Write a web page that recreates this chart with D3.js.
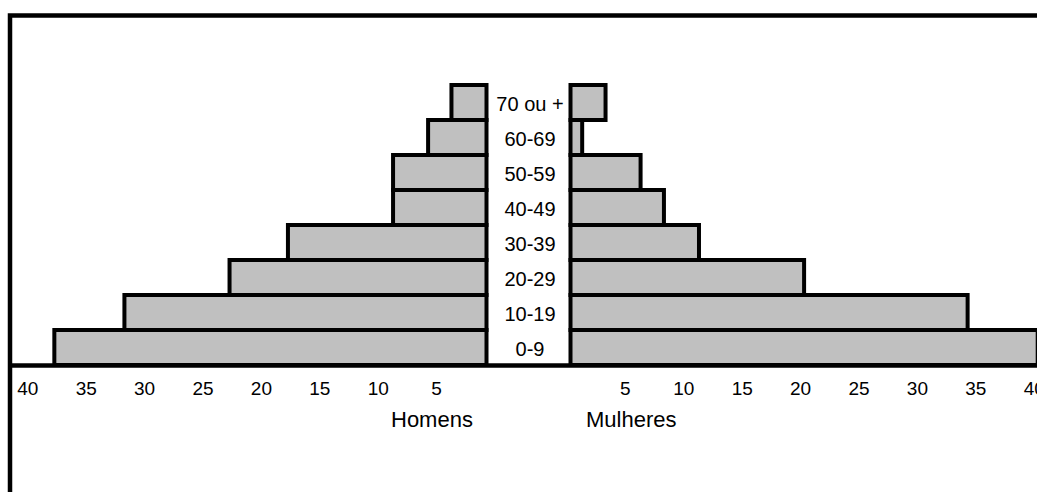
<!DOCTYPE html>
<html>
<head>
<meta charset="utf-8">
<script src="https://cdn.jsdelivr.net/npm/d3@7"></script>
<style>
  body { margin: 0; background: #fff; }
  svg { display: block; }
  text { font-family: "Liberation Sans", Arial, sans-serif; fill: #000; }
</style>
</head>
<body>
<svg class="pyramid"></svg>
<script>
// faixas etarias, de cima para baixo
var age_groups = ["70 ou +", "60-69", "50-59", "40-49", "30-39", "20-29", "10-19", "0-9"]
var homens = [3, 5, 8, 8, 17, 22, 31, 37]
var mulheres = [3, 1, 6, 8, 11, 20, 34, 40]
var tick_values = [5, 10, 15, 20, 25, 30, 35, 40]

var screen = {
    width : 1037,
    height : 492
}

var svg = d3.select('.pyramid')
    .attr('width', screen.width)
    .attr('height', screen.height)

var left_zero = 486.5
var right_zero = 570.5
var unit = 11.68

var xLeft = d3.scaleLinear()
    .domain([0, 40])
    .range([left_zero, left_zero - 40 * unit])

var xRight = d3.scaleLinear()
    .domain([0, 40])
    .range([right_zero, right_zero + 40 * unit])

var y = d3.scaleBand()
    .domain(age_groups)
    .range([85, 365])
    .padding(0)

// moldura
svg.append('rect')
    .attr('x', 10)
    .attr('y', 15.5)
    .attr('width', 1200)
    .attr('height', 700)
    .attr('fill', 'none')
    .attr('stroke', '#000')
    .attr('stroke-width', 4.5)

var homens_data = age_groups.map(function(g, i){ return {group: g, value: homens[i]} })
var mulheres_data = age_groups.map(function(g, i){ return {group: g, value: mulheres[i]} })

svg.append('g')
    .attr('id', 'homens')
    .selectAll('rect')
    .data(homens_data)
    .enter()
    .append('rect')
    .attr('x', function(d){ return xLeft(d.value) })
    .attr('y', function(d){ return y(d.group) })
    .attr('width', function(d){ return xLeft(0) - xLeft(d.value) })
    .attr('height', y.bandwidth())
    .attr('fill', '#c0c0c0')
    .attr('stroke', '#000')
    .attr('stroke-width', 4)

svg.append('g')
    .attr('id', 'mulheres')
    .selectAll('rect')
    .data(mulheres_data)
    .enter()
    .append('rect')
    .attr('x', xRight(0))
    .attr('y', function(d){ return y(d.group) })
    .attr('width', function(d){ return xRight(d.value) - xRight(0) })
    .attr('height', y.bandwidth())
    .attr('fill', '#c0c0c0')
    .attr('stroke', '#000')
    .attr('stroke-width', 4)

// linha de base
svg.append('line')
    .attr('x1', 10)
    .attr('x2', screen.width + 5)
    .attr('y1', 365.5)
    .attr('y2', 365.5)
    .attr('stroke', '#000')
    .attr('stroke-width', 4.5)

// rotulos das faixas
svg.append('g')
    .selectAll('text')
    .data(age_groups)
    .enter()
    .append('text')
    .attr('x', 530)
    .attr('y', function(d){ return y(d) + y.bandwidth() / 2 + 8 })
    .attr('text-anchor', 'middle')
    .attr('font-size', '20px')
    .text(function(d){ return d })

// eixos
var axisLeft = d3.axisBottom(xLeft)
    .tickValues([40].concat(tick_values.slice(0, 7).reverse()).reverse())
    .tickSize(0)
    .tickPadding(0)

var gl = svg.append('g')
    .attr('transform', 'translate(0,395)')
    .call(d3.axisBottom(xLeft).tickValues(tick_values).tickSize(0).tickPadding(0))
gl.select('.domain').remove()
gl.selectAll('text')
    .attr('dy', 0)
    .attr('dx', 8)
    .attr('font-size', '19px')
    .attr('font-family', '"Liberation Sans", Arial, sans-serif')
    .attr('fill', '#000')

var gr = svg.append('g')
    .attr('transform', 'translate(0,395)')
    .call(d3.axisBottom(xRight).tickValues(tick_values).tickSize(0).tickPadding(0))
gr.select('.domain').remove()
gr.selectAll('text')
    .attr('dy', 0)
    .attr('dx', -4)
    .attr('font-size', '19px')
    .attr('font-family', '"Liberation Sans", Arial, sans-serif')
    .attr('fill', '#000')

svg.append('text')
    .attr('x', 391)
    .attr('y', 427)
    .attr('font-size', '22px')
    .text('Homens')

svg.append('text')
    .attr('x', 586)
    .attr('y', 427)
    .attr('font-size', '22px')
    .text('Mulheres')
</script>
</body>
</html>
